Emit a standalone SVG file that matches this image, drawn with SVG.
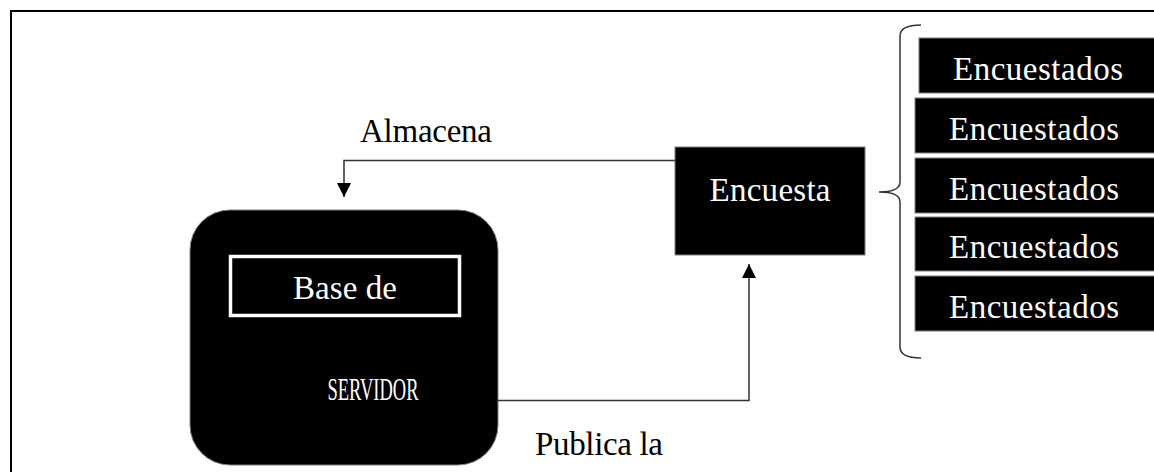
<svg xmlns="http://www.w3.org/2000/svg" width="1154" height="472" viewBox="0 0 1154 472">
<style>
.lbl{font-family:"Liberation Serif","Times New Roman",serif;font-size:33px;fill:#000}
.wt{font-family:"Liberation Serif","Times New Roman",serif;font-size:33px;fill:#fff}
.box{fill:#000;stroke:#7f7f7f;stroke-width:1}
.conn{fill:none;stroke:#333;stroke-width:1.5}
</style>
<defs>
<marker id="arr" markerWidth="16" markerHeight="14" refX="14" refY="7" orient="auto" markerUnits="userSpaceOnUse">
<path d="M0,0 L14,7 L0,14 Z" fill="#000"/>
</marker>
</defs>
<rect x="11" y="11" width="1200" height="520" fill="none" stroke="#000" stroke-width="2"/>
<g id="servidor">
<rect x="190" y="210" width="308" height="255" rx="40" ry="40" class="box"/>
<rect x="230.5" y="256.5" width="229" height="59" fill="none" stroke="#fff" stroke-width="3.5"/>
<text x="345" y="299" text-anchor="middle" class="wt" textLength="104">Base de</text>
<text x="373" y="400" text-anchor="middle" class="wt" textLength="91" lengthAdjust="spacingAndGlyphs" style="font-size:31px">SERVIDOR</text>
</g>
<g id="encuesta">
<rect x="675" y="147" width="190" height="108" class="box"/>
<text x="770" y="201" text-anchor="middle" class="wt" textLength="121">Encuesta</text>
</g>
<g id="encuestados">
<rect x="919" y="38" width="250" height="55" class="box"/>
<text x="1038" y="80" text-anchor="middle" class="wt" textLength="170">Encuestados</text>
<rect x="915" y="98" width="250" height="55" class="box"/>
<text x="1034" y="140" text-anchor="middle" class="wt" textLength="170">Encuestados</text>
<rect x="915" y="158" width="250" height="55" class="box"/>
<text x="1034" y="200" text-anchor="middle" class="wt" textLength="170">Encuestados</text>
<rect x="915" y="217" width="250" height="54" class="box"/>
<text x="1034" y="258" text-anchor="middle" class="wt" textLength="170">Encuestados</text>
<rect x="915" y="276" width="250" height="55" class="box"/>
<text x="1034" y="318" text-anchor="middle" class="wt" textLength="170">Encuestados</text>
</g>
<g id="connectors">
<path class="conn" d="M675,160.5 L344,160.5 L344,197" marker-end="url(#arr)"/>
<path class="conn" d="M498,400.5 L749,400.5 L749,264" marker-end="url(#arr)"/>
<path class="conn" d="M921,25 Q900,25 900,36 L900,182 Q900,192 879,192 Q900,192 900,202 L900,347 Q900,358 921,358"/>
</g>
<g id="labels">
<text x="360" y="142" class="lbl" textLength="132">Almacena</text>
<text x="535" y="455" class="lbl" textLength="128">Publica la</text>
</g>
</svg>
